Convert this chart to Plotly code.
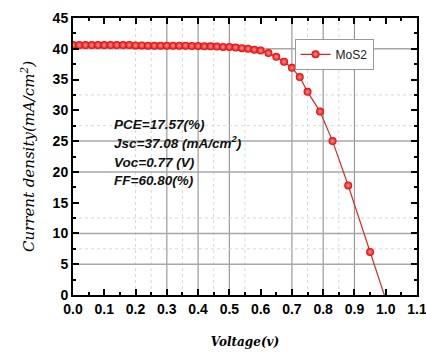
import plotly.graph_objects as go

voltage = [0.00, 0.02, 0.04, 0.06, 0.08, 0.10, 0.12, 0.14, 0.16, 0.18, 0.20,
           0.22, 0.24, 0.26, 0.28, 0.30, 0.32, 0.34, 0.36, 0.38, 0.40,
           0.42, 0.44, 0.46, 0.48, 0.50, 0.52, 0.54, 0.56, 0.58, 0.60,
           0.625, 0.65, 0.675, 0.70, 0.725, 0.75, 0.79, 0.83, 0.88, 0.95, 1.00]
current = [40.6, 40.6, 40.6, 40.6, 40.6, 40.6, 40.6, 40.6, 40.6, 40.6, 40.55,
           40.55, 40.5, 40.5, 40.5, 40.5, 40.5, 40.5, 40.5, 40.45, 40.45,
           40.4, 40.4, 40.35, 40.3, 40.3, 40.2, 40.1, 40.0, 39.85, 39.7,
           39.3, 38.7, 37.9, 36.9, 35.4, 33.0, 29.8, 25.0, 17.8, 7.0, -0.7]
series_name = "MoS2"

x_tick_vals = [0.0, 0.1, 0.2, 0.3, 0.4, 0.5, 0.6, 0.7, 0.8, 0.9, 1.0, 1.1]
x_tick_text = ["0.0", "0.1", "0.2", "0.3", "0.4", "0.5", "0.6", "0.7", "0.8", "0.9", "1.0", "1.1"]
y_tick_vals = [0, 5, 10, 15, 20, 25, 30, 35, 40, 45]

vgrid_solid = [0.3, 0.4, 0.5, 0.7, 0.8, 0.9]
vgrid_dotted = [0.2, 0.25, 0.35, 0.45, 0.55, 0.75, 0.85]
hgrid_solid = [5, 10, 20, 25, 40]
hgrid_dotted = [7.5, 12.5, 27.5, 32.5]

metrics = ["PCE=17.57(%)", "Jsc=37.08 (mA/cm<sup>2</sup>)", "Voc=0.77 (V)", "FF=60.80(%)"]

fig = go.Figure()
fig.add_trace(go.Scatter(
    x=voltage, y=current, mode="lines+markers", name=series_name,
    line=dict(color="#d42a2a", width=1.2),
    marker=dict(size=8, color="#e60000", line=dict(width=0),
                gradient=dict(type="radial", color="#ff9a9a")),
    cliponaxis=True,
))

shapes = []
for v in vgrid_solid:
    shapes.append(dict(type="line", xref="x", yref="paper", x0=v, x1=v, y0=0, y1=1,
                       line=dict(color="#9a9a9a", width=1.2), layer="below"))
for v in vgrid_dotted:
    shapes.append(dict(type="line", xref="x", yref="paper", x0=v, x1=v, y0=0, y1=1,
                       line=dict(color="#d8d8d8", width=1, dash="dot"), layer="below"))
for h in hgrid_solid:
    shapes.append(dict(type="line", xref="paper", yref="y", x0=0, x1=1, y0=h, y1=h,
                       line=dict(color="#a8a8a8", width=1.5), layer="below"))
for h in hgrid_dotted:
    shapes.append(dict(type="line", xref="paper", yref="y", x0=0, x1=1, y0=h, y1=h,
                       line=dict(color="#d8d8d8", width=1, dash="dot"), layer="below"))

ann_y = [0.614, 0.552, 0.480, 0.412]
annotations = []
for txt, yy in zip(metrics, ann_y):
    annotations.append(dict(text="<b><i>" + txt + "</i></b>", xref="paper", yref="paper",
                            x=0.116, y=yy, xanchor="left", yanchor="middle", showarrow=False,
                            borderpad=0,
                            font=dict(family="Liberation Sans, Arial", size=13.5, color="#111")))

fig.update_layout(
    width=426, height=353,
    margin=dict(l=73, r=9, t=18, b=58, autoexpand=False),
    paper_bgcolor="white", plot_bgcolor="white",
    shapes=shapes, annotations=annotations,
    showlegend=True,
    legend=dict(x=0.644, y=0.925, xanchor="left", yanchor="top",
                bordercolor="#999", borderwidth=1, bgcolor="white",
                font=dict(family="Liberation Sans, Arial", size=12, color="#222"),
                itemwidth=30, tracegroupgap=0),
    xaxis=dict(range=[0, 1.1], tickvals=x_tick_vals, ticktext=x_tick_text,
               showgrid=False, zeroline=False, automargin=False, ticklabeloverflow="allow",
               showline=True, linecolor="black", linewidth=2, mirror="ticks",
               ticks="inside", ticklen=6, tickwidth=2, tickcolor="black",
               minor=dict(dtick=0.05, ticks="inside", ticklen=3, tickwidth=1.5, tickcolor="black", showgrid=False),
               tickfont=dict(family="Liberation Sans, Arial", size=14, color="black", weight="bold"),
               title=dict(text="<b><i>Voltage(v)</i></b>", standoff=22,
                          font=dict(family="DejaVu Serif", size=12, color="black"))),
    yaxis=dict(range=[0, 45], tickvals=y_tick_vals,
               showgrid=False, zeroline=False, automargin=False, ticklabeloverflow="allow",
               showline=True, linecolor="black", linewidth=2, mirror="ticks",
               ticks="inside", ticklen=6, tickwidth=2, tickcolor="black",
               minor=dict(dtick=2.5, ticks="inside", ticklen=3, tickwidth=1.5, tickcolor="black", showgrid=False),
               tickfont=dict(family="Liberation Sans, Arial", size=14, color="black", weight="bold"),
               title=dict(text="<i>Current density(mA/cm<sup>2</sup>)</i>", standoff=14,
                          font=dict(family="DejaVu Serif", size=15, color="black"))),
)

fig.write_html("out.html", config={"displayModeBar": False},
               post_script="document.body.style.margin='0';document.body.style.overflow='hidden';")
